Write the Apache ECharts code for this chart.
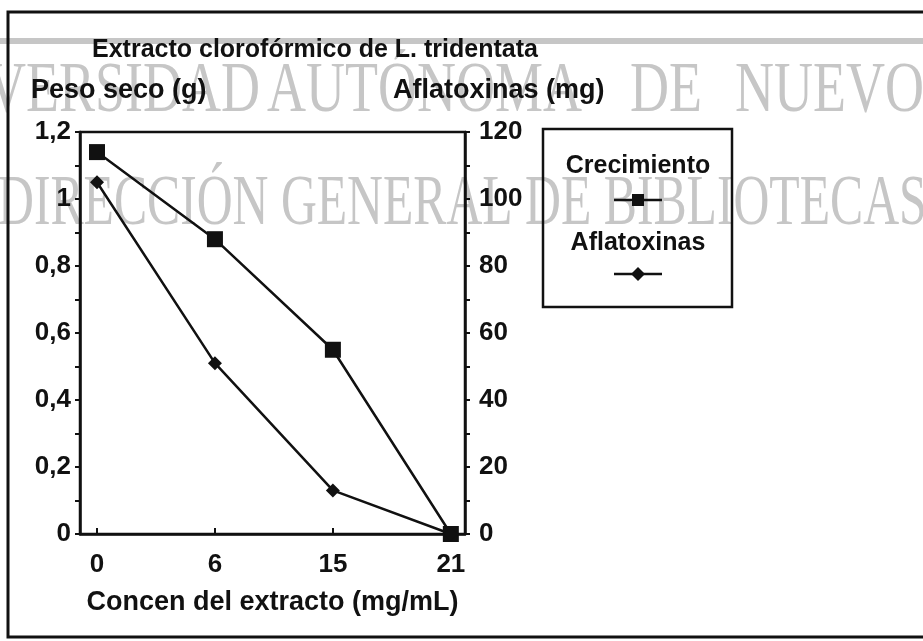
<!DOCTYPE html>
<html>
<head>
<meta charset="utf-8">
<script src="https://cdn.jsdelivr.net/npm/echarts@6/dist/echarts.min.js"></script>
<style>
  html, body { margin: 0; padding: 0; background: #fff; }
  #chart { width: 923px; height: 641px; }
</style>
</head>
<body>
<div id="chart"></div>
<script>
  // categorias del eje x (concentracion mg/mL)
  var categories = ['0', '6', '15', '21']
  // peso seco (g), eje izquierdo
  var crecimiento = [1.14, 0.88, 0.55, 0]
  // aflatoxinas (mg), eje derecho
  var aflatoxinas = [105, 51, 13, 0]

  var fontFam = '"Liberation Sans", Arial, sans-serif'
  var serif = '"Liberation Serif", "DejaVu Serif", serif'
  var wmColor = '#c6c6c6'
  var ink = '#111'

  var chart = echarts.init(document.getElementById('chart'))

  function pairs (arr) {
    return arr.map(function (v, i) { return [i, v] })
  }

  // palabra de la marca de agua, comprimida en horizontal
  function wmWord (text, x, y, sx, align) {
    return {
      type: 'text', z: -10, silent: true, x: x, y: y, scaleX: sx,
      style: { text: text, font: '72px ' + serif, fill: wmColor, align: align || 'left', verticalAlign: 'top' }
    }
  }

  var labelStyle = { fontFamily: fontFam, fontSize: 26, fontWeight: 'bold', color: ink }

  chart.setOption({
    backgroundColor: '#fff',
    animation: false,
    title: {
      text: 'Extracto clorofórmico de L. tridentata',
      left: 87,
      top: 33,
      textStyle: { fontFamily: fontFam, fontSize: 25, fontWeight: 'bold', color: ink }
    },
    grid: { left: 80, right: 458, top: 132, bottom: 107, show: true, borderColor: ink, borderWidth: 2.5, z: 3 },
    xAxis: {
      type: 'value',
      min: -0.144,
      max: 3.12,
      name: 'Concen del extracto (mg/mL)',
      nameLocation: 'middle',
      nameGap: 55,
      nameTextStyle: { fontFamily: fontFam, fontSize: 27, fontWeight: 'bold', color: ink },
      axisLine: { show: true, lineStyle: { color: ink, width: 2.5 } },
      axisTick: { show: true, inside: true, length: 6, customValues: [0, 1, 2, 3], lineStyle: { color: ink, width: 2 } },
      axisLabel: Object.assign({
        customValues: [0, 1, 2, 3],
        formatter: function (v) { return categories[Math.round(v)] },
        margin: 18
      }, labelStyle),
      splitLine: { show: false }
    },
    yAxis: [{
      type: 'value',
      min: 0,
      max: 1.2,
      interval: 0.2,
      position: 'left',
      axisLine: { show: true, onZero: false, lineStyle: { color: ink, width: 2.5 } },
      axisTick: { show: true, length: 5, lineStyle: { color: ink, width: 2 } },
      minorTick: { show: true, splitNumber: 2, length: 5, lineStyle: { color: ink, width: 2 } },
      axisLabel: Object.assign({
        margin: 9,
        formatter: function (v) { return String(+v.toFixed(1)).replace('.', ',') }
      }, labelStyle),
      splitLine: { show: false }
    }, {
      type: 'value',
      min: 0,
      max: 120,
      interval: 20,
      position: 'right',
      axisLine: { show: true, onZero: false, lineStyle: { color: ink, width: 2.5 } },
      axisTick: { show: true, length: 5, lineStyle: { color: ink, width: 2 } },
      minorTick: { show: true, splitNumber: 2, length: 5, lineStyle: { color: ink, width: 2 } },
      axisLabel: Object.assign({ margin: 14 }, labelStyle),
      splitLine: { show: false }
    }],
    series: [{
      name: 'Crecimiento',
      type: 'line',
      yAxisIndex: 0,
      data: pairs(crecimiento),
      symbol: 'rect',
      symbolSize: 16,
      itemStyle: { color: ink },
      lineStyle: { color: ink, width: 2.5 },
      z: 5
    }, {
      name: 'Aflatoxinas',
      type: 'line',
      yAxisIndex: 1,
      data: pairs(aflatoxinas),
      symbol: 'diamond',
      symbolSize: 14,
      itemStyle: { color: ink },
      lineStyle: { color: ink, width: 2.5 },
      z: 5
    }],
    graphic: [
      // marca de agua del escaneo
      { type: 'rect', z: -10, silent: true, shape: { x: 0, y: 38, width: 923, height: 6 }, style: { fill: wmColor } },
      wmWord('UNIVERSIDAD', 260, 56, 0.75, 'right'),
      wmWord('AUTÓNOMA', 267, 56, 0.75),
      wmWord('DE', 630, 56, 0.75),
      wmWord('NUEVO', 735, 56, 0.75),
      wmWord('LEÓN', 935, 56, 0.75),
      wmWord('DIRECCIÓN GENERAL DE BIBLIOTECAS', -2, 169, 0.69),
      // marco exterior
      { type: 'rect', z: 10, silent: true, shape: { x: 8, y: 12, width: 940, height: 625 },
        style: { fill: 'none', stroke: ink, lineWidth: 3 } },
      // nombres de los ejes
      { type: 'text', z: 10, x: 31, y: 91,
        style: { text: 'Peso seco (g)', font: 'bold 27px ' + fontFam, fill: ink, verticalAlign: 'middle' } },
      { type: 'text', z: 10, x: 393, y: 91,
        style: { text: 'Aflatoxinas (mg)', font: 'bold 27px ' + fontFam, fill: ink, verticalAlign: 'middle' } },
      // leyenda
      { type: 'rect', z: 10, shape: { x: 543, y: 129, width: 189, height: 178 },
        style: { fill: 'none', stroke: ink, lineWidth: 2.5 } },
      { type: 'text', z: 11, x: 638, y: 166,
        style: { text: 'Crecimiento', font: 'bold 25px ' + fontFam, fill: ink, align: 'center', verticalAlign: 'middle' } },
      { type: 'line', z: 11, shape: { x1: 614, y1: 200, x2: 662, y2: 200 }, style: { stroke: ink, lineWidth: 2.5 } },
      { type: 'rect', z: 11, shape: { x: 632, y: 194, width: 12, height: 12 }, style: { fill: ink } },
      { type: 'text', z: 11, x: 638, y: 243,
        style: { text: 'Aflatoxinas', font: 'bold 25px ' + fontFam, fill: ink, align: 'center', verticalAlign: 'middle' } },
      { type: 'line', z: 11, shape: { x1: 614, y1: 274, x2: 662, y2: 274 }, style: { stroke: ink, lineWidth: 2.5 } },
      { type: 'polygon', z: 11, shape: { points: [[638, 267], [645, 274], [638, 281], [631, 274]] }, style: { fill: ink } }
    ]
  })
</script>
</body>
</html>
